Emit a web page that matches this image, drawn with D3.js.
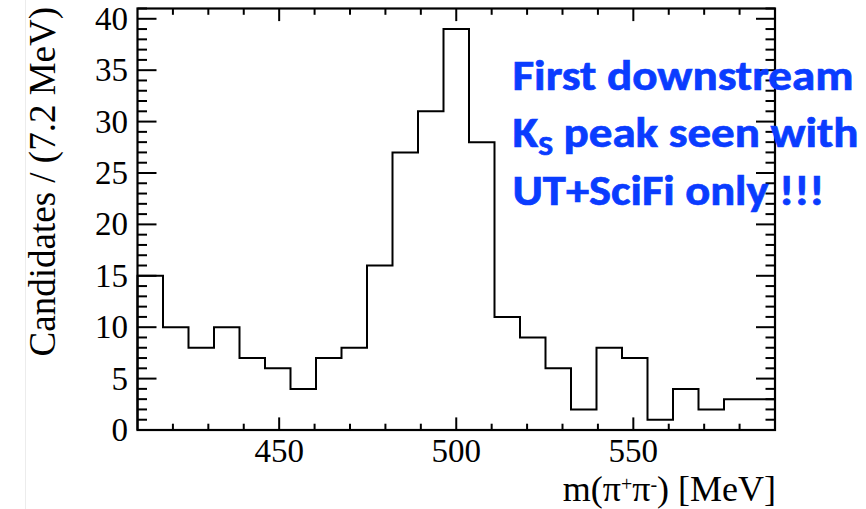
<!DOCTYPE html>
<html>
<head>
<meta charset="utf-8">
<script src="https://cdn.jsdelivr.net/npm/d3@7"></script>
<style>
  html, body { margin: 0; padding: 0; background: #fff; }
  svg { display: block; }
</style>
</head>
<body>
<svg id="chart" width="866" height="509"></svg>
<script>
// Histogram of m(pi+ pi-) candidates, 25 bins of 7.2 MeV from 410 MeV
const binLow = 410;
const binWidth = 7.2;
const counts = [15, 10, 8, 10, 7, 6, 4, 7, 8, 16, 27, 31, 39, 28, 11, 9, 6, 2, 8, 7, 1, 4, 2, 3, 3];
const xMajorTicks = [450, 500, 550];
const xMinorTicks = [420, 430, 440, 460, 470, 480, 490, 510, 520, 530, 540, 560, 570, 580];
const yMajorTicks = [0, 5, 10, 15, 20, 25, 30, 35, 40];
const yMinorTicks = d3.range(0, 42, 1).filter(v => v % 5 !== 0);
const annotationLines = ["First downstream", "K_S peak seen with", "UT+SciFi only !!!"];

const svg = d3.select("#chart");
const W = 866, H = 509;
const frame = { left: 137.5, right: 775, top: 8.5, bottom: 430 };

const xMax = binLow + binWidth * counts.length;
const x = d3.scaleLinear().domain([binLow, xMax]).range([frame.left, frame.right]);
const y = d3.scaleLinear().domain([0, 41]).range([frame.bottom, frame.top]);

// faint page edge on the left
svg.append("line")
  .attr("x1", 25.5).attr("x2", 25.5).attr("y1", 0).attr("y2", H)
  .attr("stroke", "#ececec").attr("stroke-width", 1);

const serif = "'Liberation Serif', 'Times New Roman', serif";

// tick marks on all four sides, pointing inward
const plotH = frame.bottom - frame.top;
const plotW = frame.right - frame.left;
const xMajLen = 12.6, xMinLen = 6.3, yMajLen = 19, yMinLen = 9.5;

const ticks = svg.append("g").attr("stroke", "#000").attr("stroke-width", 2);
function xTicks(vals, len) {
  vals.forEach(v => {
    ticks.append("line").attr("x1", x(v)).attr("x2", x(v))
      .attr("y1", frame.bottom).attr("y2", frame.bottom - len);
    ticks.append("line").attr("x1", x(v)).attr("x2", x(v))
      .attr("y1", frame.top).attr("y2", frame.top + len);
  });
}
function yTicks(vals, len) {
  vals.forEach(v => {
    ticks.append("line").attr("y1", y(v)).attr("y2", y(v))
      .attr("x1", frame.left).attr("x2", frame.left + len);
    ticks.append("line").attr("y1", y(v)).attr("y2", y(v))
      .attr("x1", frame.right).attr("x2", frame.right - len);
  });
}
xTicks(xMajorTicks, xMajLen);
xTicks(xMinorTicks, xMinLen);
yTicks(yMajorTicks, yMajLen);
yTicks(yMinorTicks, yMinLen);

// histogram outline
const pts = [[binLow, 0]];
counts.forEach((c, i) => {
  const lo = binLow + i * binWidth;
  pts.push([lo, c], [lo + binWidth, c]);
});
pts.push([xMax, 0]);
svg.append("path")
  .attr("d", d3.line().x(d => x(d[0])).y(d => y(d[1]))(pts))
  .attr("fill", "none").attr("stroke", "#000").attr("stroke-width", 2)
  .attr("stroke-linejoin", "miter");

// frame
svg.append("rect")
  .attr("x", frame.left).attr("y", frame.top)
  .attr("width", plotW).attr("height", plotH)
  .attr("fill", "none").attr("stroke", "#000").attr("stroke-width", 2.2);

// tick labels
svg.append("g").selectAll("text").data(xMajorTicks).join("text")
  .attr("x", d => x(d)).attr("y", 462)
  .attr("text-anchor", "middle")
  .attr("font-family", serif).attr("font-size", 33)
  .text(d => d);

svg.append("g").selectAll("text").data(yMajorTicks).join("text")
  .attr("x", 128).attr("y", d => y(d) + 11)
  .attr("text-anchor", "end")
  .attr("font-family", serif).attr("font-size", 33)
  .text(d => d);

// axis titles
const xt = svg.append("text")
  .attr("x", 776).attr("y", 501)
  .attr("text-anchor", "end")
  .attr("font-family", serif).attr("font-size", 36);
xt.append("tspan").text("m(\u03c0");
xt.append("tspan").attr("font-size", 20).attr("dy", -10).text("+");
xt.append("tspan").attr("dy", 10).text("\u03c0");
xt.append("tspan").attr("font-size", 20).attr("dy", -10).text("-");
xt.append("tspan").attr("dy", 10).text(") [MeV]");

svg.append("text")
  .attr("transform", "translate(55,7) rotate(-90)")
  .attr("text-anchor", "end")
  .attr("font-family", serif).attr("font-size", 37)
  .text("Candidates / (7.2 MeV)");

// annotation
const blue = "#0a3cff";
const sans = "Carlito, Lato, 'Open Sans', sans-serif";
const lineWidths = [341, 346, 312];
const baselines = [90, 147, 205];
annotationLines.forEach((line, i) => {
  const t = svg.append("text")
    .attr("x", 512.5).attr("y", baselines[i])
    .attr("font-family", sans).attr("font-weight", "bold")
    .attr("font-size", 42).attr("fill", blue)
    .attr("stroke", blue).attr("stroke-width", 0.7)
    .attr("textLength", lineWidths[i]).attr("lengthAdjust", "spacingAndGlyphs");
  if (line.startsWith("K_S")) {
    t.append("tspan").text("K");
    t.append("tspan").attr("font-size", 28).attr("dy", 8).text("S");
    t.append("tspan").attr("dy", -8).text(line.slice(3));
  } else {
    t.text(line);
  }
});
</script>
</body>
</html>
